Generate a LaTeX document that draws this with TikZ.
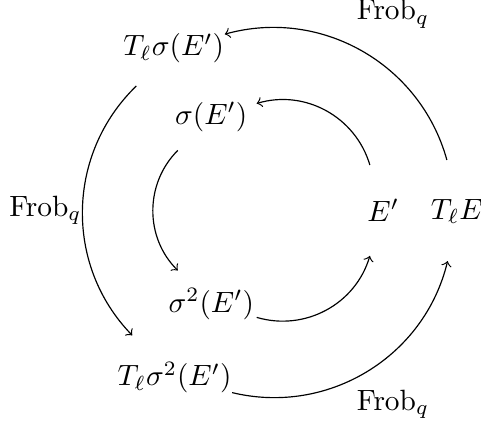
\documentclass[tikz,border=0pt]{standalone}
\usepackage{amsmath,amssymb}
\usetikzlibrary{arrows}

\begin{document}
\begin{tikzpicture}[inner/.style={circle,inner sep=0pt,minimum size=1.12cm},
                    outer/.style={circle,inner sep=0pt,minimum size=1.24cm}]
  \useasboundingbox (-3.27,-2.54) rectangle (2.49,2.52);
  % inner ring
  \node[inner] (E) at (1.32,0) {$E'$};
  \node[inner] (sE) at (-0.74,1.12) {$\sigma(E')$};
  \node[inner] (ssE) at (-0.74,-1.12) {$\sigma^2(E')$};
  % outer ring
  \node[outer] (TE) at (2.25,0) {$T_\ell E'$};
  \node[outer] (TsE) at (-1.19,1.94) {$T_\ell\sigma(E')$};
  \node[outer] (TssE) at (-1.18,-2.0) {$T_\ell\sigma^2(E')$};
  % arrows
  \draw[->] (E) to[bend right=45] (sE);
  \draw[->] (sE) to[bend right=45] (ssE);
  \draw[->] (ssE) to[bend right=45] (E);
  \draw[->] (TE) to[bend right=45] (TsE);
  \draw[->] (TsE) to[bend right=45] (TssE);
  \draw[->] (TssE) to[bend right=45] (TE);
  % labels
  \node (frobT) at (1.435,2.356) {$\mathrm{Frob}_q$};
  \node (frobL) at (-2.727,0) {$\mathrm{Frob}_q$};
  \node (frobB) at (1.435,-2.32) {$\mathrm{Frob}_q$};
\end{tikzpicture}
\end{document}
